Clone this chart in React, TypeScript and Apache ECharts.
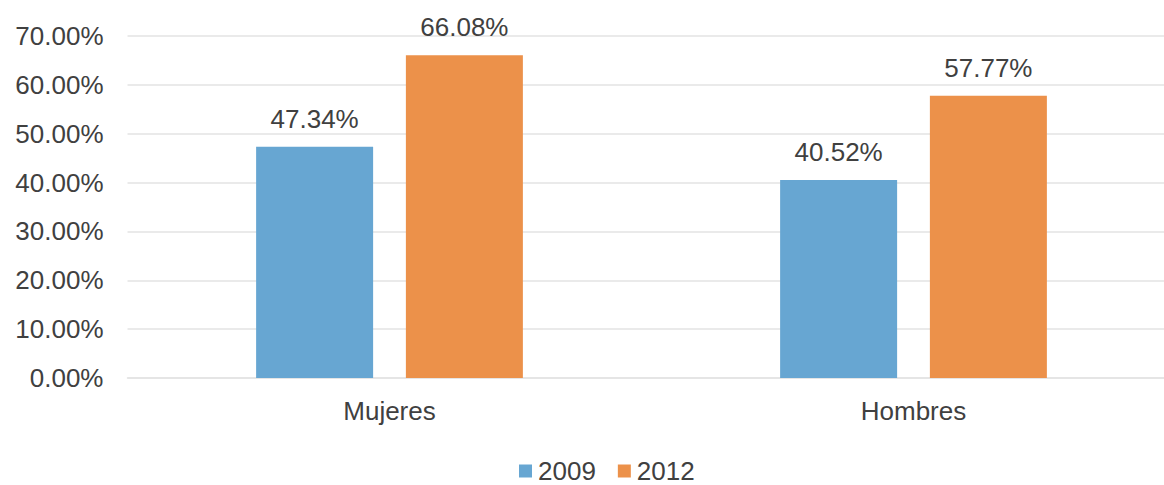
import React, { useEffect, useRef } from "react";
import * as echarts from "echarts";

const categories = ["Mujeres", "Hombres"];
const values2009 = [47.34, 40.52];
const values2012 = [66.08, 57.77];
const seriesNames = ["2009", "2012"];

const FONT = "'Liberation Sans', Arial, Helvetica, sans-serif";
const TXT = "#404040";
const FS = 26;

export default function App() {
  const ref = useRef<HTMLDivElement>(null);
  useEffect(() => {
    if (!ref.current) return;
    const chart = echarts.init(ref.current, null, { renderer: "svg" });
    const label = {
      show: true,
      position: "top",
      distance: 15,
      color: TXT,
      fontSize: FS,
      fontFamily: FONT,
      formatter: (p: any) => p.value.toFixed(2) + "%",
    };
    chart.setOption({
      animation: false,
      backgroundColor: "#ffffff",
      textStyle: { fontFamily: FONT },
      grid: { left: 127.5, right: 0.5, top: 36, bottom: 107, containLabel: false },
      legend: {
        top: 458,
        left: 519,
        padding: 0,
        itemWidth: 13,
        itemHeight: 13,
        itemGap: 22,
        icon: "rect",
        textStyle: { color: TXT, fontSize: FS, fontFamily: FONT, padding: [0, 0, 0, 1] },
        data: seriesNames,
      },
      xAxis: {
        type: "category",
        data: categories,
        axisLine: { show: true, lineStyle: { color: "#e3e3e3", width: 1.5 } },
        axisTick: { show: false },
        axisLabel: { color: TXT, fontSize: FS, fontFamily: FONT, margin: 20 },
      },
      yAxis: {
        type: "value",
        min: 0,
        max: 70,
        interval: 10,
        axisLine: { show: false },
        axisTick: { show: false },
        splitLine: { lineStyle: { color: "#e3e3e3", width: 1.5 } },
        axisLabel: {
          color: TXT,
          fontSize: FS,
          fontFamily: FONT,
          margin: 24,
          formatter: (v: number) => v.toFixed(2) + "%",
        },
      },
      series: [
        {
          name: seriesNames[0],
          type: "bar",
          data: values2009,
          barWidth: 117,
          barGap: "28%",
          itemStyle: { color: "#67A6D2" },
          label,
        },
        {
          name: seriesNames[1],
          type: "bar",
          data: values2012,
          barWidth: 117,
          itemStyle: { color: "#EC914A" },
          label,
        },
      ],
    });
    return () => chart.dispose();
  }, []);
  return (
    <div style={{ position: "fixed", left: 0, top: 0, width: 1164, height: 485, overflow: "hidden" }}>
      <div ref={ref} style={{ width: 1176, height: 485 }} />
    </div>
  );
}
